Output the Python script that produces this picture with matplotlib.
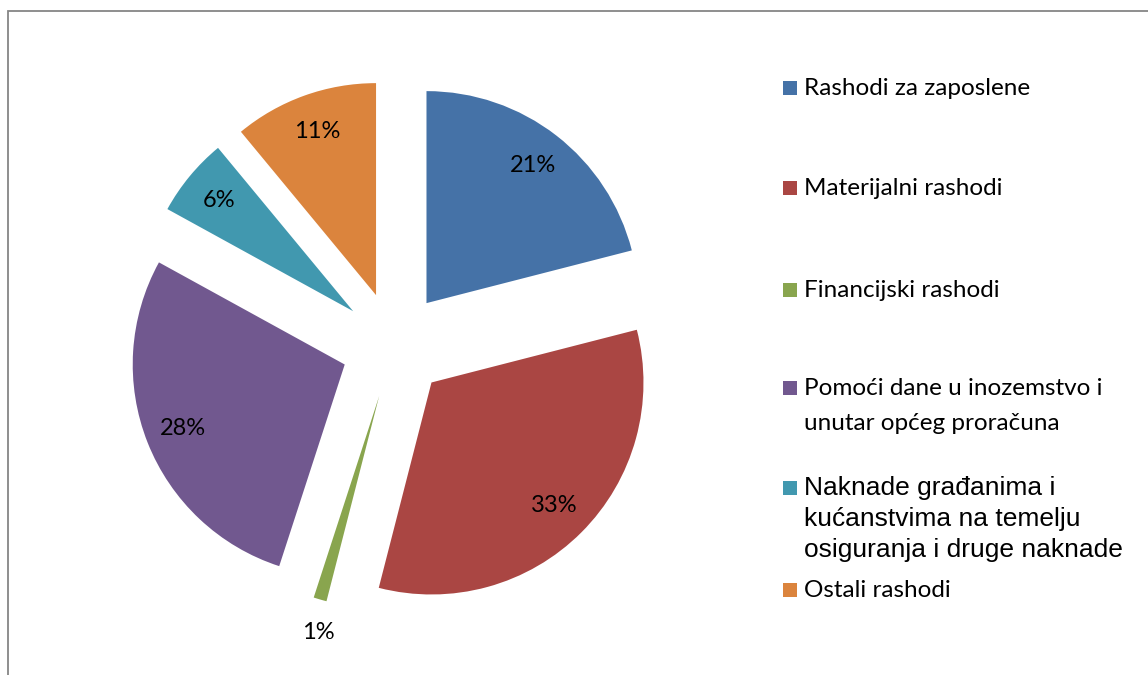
import numpy as np
import matplotlib
matplotlib.use('Agg')
import matplotlib.pyplot as plt
from matplotlib.patches import Rectangle

# Shares of expenditure (%)
categories = ['Rashodi za zaposlene', 'Materijalni rashodi', 'Financijski rashodi',
              'Pomoći dane u inozemstvo i\nunutar općeg proračuna',
              'Naknade građanima i\nkućanstvima na temelju\nosiguranja i druge naknade',
              'Ostali rashodi']
values = [21, 33, 1, 28, 6, 11]
colors = ['#4572A7', '#AA4643', '#89A54E', '#71588F', '#4198AF', '#DB843D']

W, H = 1148, 675
fig = plt.figure(figsize=(W / 100, H / 100), dpi=100)
ax = fig.add_axes([0, 0, 1, 1])

# outer frame (only left/top visible in the crop)
fig.patches.append(Rectangle((8 / W, -0.1), 1.2, 1 - 11 / H + 0.1, transform=fig.transFigure,
                             fill=False, edgecolor='#868686', linewidth=1.3))

cx, cy, r = 394, H - 345, 212
wedges, _, autotexts = ax.pie(values, colors=colors, explode=[53] * len(values),
                              startangle=90, counterclock=False, radius=r, center=(cx, cy),
                              autopct=lambda p: f'{p:.0f}%', pctdistance=0.82,
                              textprops=dict(fontfamily='Lato', fontsize=17, color='black'))

# small slice: label goes outside
w = wedges[2]
tm = np.deg2rad((w.theta1 + w.theta2) / 2)
autotexts[2].set_position((w.center[0] + 1.16 * r * np.cos(tm) + 8,
                           w.center[1] + 1.16 * r * np.sin(tm)))

ax.set_xlim(0, W)
ax.set_ylim(0, H)
ax.set_aspect('auto')
ax.axis('off')

# legend
leg_y = [88, 188, 290, 388, 488, 590]
for i, (lab, col) in enumerate(zip(categories, colors)):
    y = leg_y[i]
    ax.add_patch(Rectangle((783, H - y - 7), 14, 14, facecolor=col, edgecolor='none'))
    if i == 4:
        ax.text(804, H - y + 12, lab, fontfamily='Liberation Sans', fontsize=19,
                va='top', ha='left', linespacing=1.38)
    else:
        ax.text(804, H - y + 10, lab, fontfamily='Lato', fontsize=17.5, va='top', ha='left',
                linespacing=1.8)

fig.savefig('out.png', dpi=100)
